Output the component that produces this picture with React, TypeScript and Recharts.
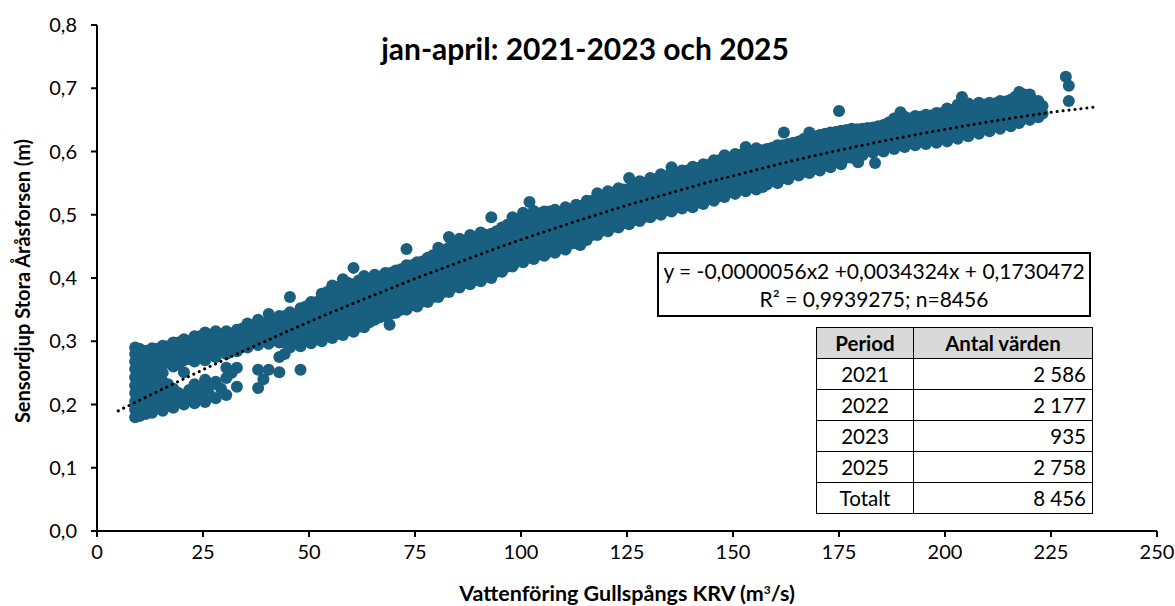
import { Scatter, ScatterChart, XAxis, YAxis } from "recharts";

// flow (m3/s) and sensor depth (m)
type Col = [number, number[]];

const lowFlow: Col[] = [
  [9, [0.18, 0.192, 0.205, 0.218, 0.23, 0.243, 0.256, 0.268, 0.28, 0.29]],
  [10, [0.182, 0.196, 0.21, 0.224, 0.238, 0.252, 0.266, 0.279, 0.288]],
  [11.5, [0.185, 0.2, 0.214, 0.228, 0.242, 0.257, 0.271, 0.285]],
  [13, [0.187, 0.2, 0.215, 0.23, 0.245, 0.26, 0.274, 0.289]],
  [15.5, [0.19, 0.204, 0.218, 0.236, 0.25, 0.264, 0.279, 0.293]],
  [18, [0.195, 0.208, 0.225, 0.26, 0.272, 0.285, 0.298]],
  [20.5, [0.2, 0.212, 0.251, 0.27, 0.283, 0.296, 0.303]],
  [23, [0.202, 0.215, 0.232, 0.268, 0.28, 0.294, 0.308]],
  [25.5, [0.204, 0.22, 0.239, 0.27, 0.284, 0.298, 0.314]],
  [28, [0.21, 0.236, 0.275, 0.288, 0.302, 0.316]],
  [30.5, [0.215, 0.242, 0.258, 0.28, 0.292, 0.305, 0.316]],
  [33, [0.228, 0.258, 0.284, 0.298, 0.31, 0.318]],
  [35.5, [0.29, 0.302, 0.315, 0.328]],
  [38, [0.226, 0.255, 0.294, 0.306, 0.32, 0.334]],
  [40.5, [0.255, 0.296, 0.31, 0.325, 0.343]],
  [43, [0.251, 0.275, 0.298, 0.312, 0.326, 0.34]],
  [45.5, [0.29, 0.305, 0.318, 0.332, 0.346, 0.37]],
  [48, [0.255, 0.292, 0.308, 0.322, 0.337, 0.352]],
  [50.5, [0.297, 0.312, 0.326, 0.341, 0.356, 0.362]],
  [53, [0.3, 0.315, 0.33, 0.345, 0.36, 0.375]],
  [55.5, [0.305, 0.32, 0.335, 0.35, 0.365, 0.38, 0.388]],
  [58, [0.31, 0.325, 0.34, 0.355, 0.37, 0.385, 0.398]],
  [60.5, [0.315, 0.33, 0.345, 0.36, 0.375, 0.39, 0.416]],
];

const lowFill: Col[] = [
  [9.5, [0.186, 0.2, 0.214, 0.228, 0.242, 0.256, 0.27, 0.283]],
  [10.75, [0.19, 0.204, 0.218, 0.232, 0.246, 0.26, 0.274, 0.282]],
  [12.25, [0.193, 0.207, 0.221, 0.235, 0.249, 0.263, 0.277, 0.284]],
  [14.25, [0.196, 0.21, 0.224, 0.24, 0.254, 0.268, 0.282, 0.288]],
  [16.75, [0.198, 0.212, 0.232, 0.266, 0.28, 0.292]],
  [19.25, [0.204, 0.218, 0.264, 0.278, 0.292, 0.298]],
  [21.75, [0.207, 0.223, 0.272, 0.287, 0.3]],
  [24.25, [0.21, 0.228, 0.274, 0.288, 0.302, 0.308]],
  [26.75, [0.214, 0.23, 0.278, 0.292, 0.306, 0.31]],
  [29.25, [0.225, 0.284, 0.298, 0.31]],
  [31.75, [0.25, 0.288, 0.302, 0.312]],
  [34.25, [0.292, 0.306, 0.32]],
  [36.75, [0.297, 0.311, 0.325]],
  [39.25, [0.24, 0.3, 0.314, 0.328]],
  [41.75, [0.302, 0.317, 0.332]],
  [44.25, [0.28, 0.298, 0.312, 0.326, 0.34]],
  [46.75, [0.298, 0.312, 0.326, 0.34]],
  [49.25, [0.3, 0.315, 0.33, 0.345, 0.355]],
  [51.75, [0.304, 0.319, 0.334, 0.349, 0.362]],
  [54.25, [0.308, 0.323, 0.338, 0.353, 0.368, 0.378]],
  [56.75, [0.312, 0.327, 0.342, 0.357, 0.372, 0.386]],
  [59.25, [0.318, 0.333, 0.348, 0.363, 0.378, 0.392]],
];

const midFlow: Col[] = [
  [63, [0.322, 0.336, 0.35, 0.364, 0.378, 0.392, 0.403]],
  [65.5, [0.334, 0.342, 0.356, 0.37, 0.384, 0.398, 0.405]],
  [68, [0.34, 0.352, 0.366, 0.38, 0.394, 0.408]],
  [70.5, [0.345, 0.358, 0.372, 0.386, 0.4, 0.412]],
  [73, [0.35, 0.364, 0.378, 0.392, 0.406, 0.42, 0.446]],
  [75.5, [0.355, 0.369, 0.383, 0.397, 0.411, 0.425]],
  [78, [0.362, 0.376, 0.39, 0.404, 0.418, 0.432]],
  [80.5, [0.37, 0.384, 0.398, 0.412, 0.426, 0.44, 0.448]],
  [83, [0.378, 0.392, 0.406, 0.42, 0.434, 0.448, 0.465]],
  [85.5, [0.385, 0.399, 0.413, 0.427, 0.441, 0.455, 0.462]],
  [88, [0.39, 0.404, 0.418, 0.432, 0.446, 0.46, 0.468]],
  [90.5, [0.395, 0.41, 0.424, 0.438, 0.452, 0.466, 0.472]],
  [93, [0.4, 0.414, 0.428, 0.442, 0.456, 0.47, 0.496]],
  [95.5, [0.41, 0.424, 0.438, 0.452, 0.466, 0.48]],
  [98, [0.418, 0.432, 0.446, 0.46, 0.474, 0.488, 0.496]],
  [100.5, [0.425, 0.439, 0.453, 0.467, 0.481, 0.495, 0.503]],
  [103, [0.43, 0.444, 0.458, 0.472, 0.486, 0.5, 0.506]],
  [105.5, [0.435, 0.449, 0.463, 0.477, 0.491, 0.505]],
  [108, [0.44, 0.454, 0.468, 0.482, 0.496, 0.508]],
  [110.5, [0.445, 0.459, 0.473, 0.487, 0.501, 0.512]],
  [113, [0.455, 0.468, 0.482, 0.496, 0.51, 0.516]],
  [115.5, [0.46, 0.474, 0.488, 0.502, 0.516, 0.522]],
  [118, [0.468, 0.482, 0.496, 0.51, 0.524, 0.534]],
  [120.5, [0.474, 0.488, 0.502, 0.516, 0.53, 0.537]],
  [123, [0.48, 0.494, 0.508, 0.522, 0.536, 0.542]],
  [125.5, [0.485, 0.499, 0.513, 0.527, 0.541, 0.558]],
  [128, [0.49, 0.504, 0.518, 0.532, 0.546, 0.553]],
  [130.5, [0.496, 0.51, 0.524, 0.538, 0.552, 0.558]],
  [133, [0.5, 0.514, 0.528, 0.542, 0.556, 0.564]],
  [135.5, [0.505, 0.519, 0.533, 0.547, 0.561, 0.575]],
  [138, [0.51, 0.524, 0.538, 0.552, 0.566, 0.57]],
];

const midFill: Col[] = [
  [61.75, [0.323, 0.338, 0.353, 0.368, 0.383, 0.396]],
  [64.25, [0.33, 0.344, 0.358, 0.372, 0.386, 0.398]],
  [66.75, [0.338, 0.35, 0.364, 0.378, 0.392, 0.402]],
  [69.25, [0.343, 0.356, 0.37, 0.384, 0.398, 0.408]],
  [71.75, [0.35, 0.362, 0.376, 0.39, 0.404, 0.414]],
  [74.25, [0.357, 0.37, 0.384, 0.398, 0.412, 0.42]],
  [76.75, [0.363, 0.376, 0.39, 0.404, 0.418, 0.426]],
  [79.25, [0.37, 0.383, 0.397, 0.411, 0.425, 0.436]],
  [81.75, [0.378, 0.391, 0.405, 0.419, 0.433, 0.444]],
  [84.25, [0.386, 0.399, 0.413, 0.427, 0.441, 0.452]],
  [86.75, [0.392, 0.406, 0.42, 0.434, 0.448, 0.458]],
  [89.25, [0.397, 0.411, 0.425, 0.439, 0.453, 0.464]],
  [91.75, [0.402, 0.417, 0.431, 0.445, 0.459, 0.468]],
  [94.25, [0.41, 0.421, 0.435, 0.449, 0.463, 0.474]],
  [96.75, [0.418, 0.431, 0.445, 0.459, 0.473, 0.484]],
  [99.25, [0.426, 0.436, 0.45, 0.464, 0.478, 0.492]],
  [101.75, [0.432, 0.446, 0.46, 0.474, 0.488, 0.498]],
  [104.25, [0.437, 0.451, 0.465, 0.479, 0.493, 0.502]],
  [106.75, [0.442, 0.456, 0.47, 0.484, 0.498, 0.505]],
  [109.25, [0.447, 0.461, 0.475, 0.489, 0.503]],
  [111.75, [0.454, 0.466, 0.48, 0.494, 0.506]],
  [114.25, [0.461, 0.475, 0.489, 0.503, 0.514]],
  [116.75, [0.468, 0.481, 0.495, 0.509, 0.522]],
  [119.25, [0.475, 0.489, 0.503, 0.517, 0.529]],
  [121.75, [0.481, 0.495, 0.509, 0.523, 0.535]],
  [124.25, [0.487, 0.501, 0.515, 0.529, 0.54]],
  [126.75, [0.492, 0.506, 0.52, 0.534, 0.546]],
  [129.25, [0.497, 0.511, 0.525, 0.539, 0.55]],
  [131.75, [0.502, 0.517, 0.531, 0.545, 0.556]],
  [134.25, [0.507, 0.521, 0.535, 0.549, 0.561]],
  [136.75, [0.512, 0.526, 0.54, 0.554, 0.566]],
  [139.25, [0.516, 0.531, 0.545, 0.559, 0.57]],
];

const highFlow: Col[] = [
  [140.5, [0.512, 0.526, 0.54, 0.554, 0.568, 0.576]],
  [143, [0.517, 0.531, 0.545, 0.559, 0.573, 0.58]],
  [145.5, [0.522, 0.536, 0.55, 0.564, 0.578, 0.586]],
  [148, [0.528, 0.542, 0.556, 0.57, 0.584, 0.594]],
  [150.5, [0.533, 0.547, 0.561, 0.575, 0.589, 0.596]],
  [153, [0.537, 0.551, 0.565, 0.579, 0.593, 0.607]],
  [155.5, [0.54, 0.554, 0.568, 0.582, 0.596, 0.605]],
  [158, [0.548, 0.562, 0.576, 0.59, 0.604]],
  [160.5, [0.55, 0.564, 0.578, 0.592, 0.606, 0.61]],
  [163, [0.556, 0.57, 0.584, 0.598, 0.612]],
  [165.5, [0.562, 0.576, 0.59, 0.604, 0.616]],
  [168, [0.566, 0.58, 0.594, 0.608, 0.622, 0.63]],
  [170.5, [0.57, 0.584, 0.598, 0.612, 0.626]],
  [173, [0.575, 0.589, 0.603, 0.617, 0.63]],
  [175.5, [0.58, 0.594, 0.608, 0.622, 0.633]],
  [178, [0.59, 0.604, 0.618, 0.632, 0.636]],
  [180.5, [0.594, 0.608, 0.622, 0.636]],
  [183, [0.598, 0.612, 0.626, 0.638]],
  [185.5, [0.6, 0.614, 0.628, 0.642]],
  [188, [0.604, 0.618, 0.632, 0.646, 0.652]],
  [190.5, [0.607, 0.621, 0.635, 0.649, 0.655]],
  [193, [0.61, 0.624, 0.638, 0.652, 0.656]],
  [195.5, [0.612, 0.626, 0.64, 0.654, 0.658]],
  [198, [0.614, 0.628, 0.642, 0.656, 0.661]],
  [200.5, [0.616, 0.63, 0.644, 0.658, 0.668]],
  [203, [0.62, 0.634, 0.648, 0.662, 0.674]],
  [205.5, [0.624, 0.638, 0.652, 0.666, 0.676]],
  [208, [0.628, 0.642, 0.656, 0.67, 0.677]],
  [210.5, [0.632, 0.646, 0.66, 0.674, 0.677]],
  [213, [0.636, 0.65, 0.664, 0.676, 0.68]],
  [215.5, [0.64, 0.654, 0.668, 0.682]],
  [217.5, [0.645, 0.658, 0.672, 0.686, 0.694]],
  [220, [0.65, 0.662, 0.674, 0.686, 0.69]],
  [222, [0.654, 0.665, 0.677, 0.68]],
  [223, [0.66, 0.672]],
];

const highFill: Col[] = [
  [141.75, [0.52, 0.534, 0.548, 0.562, 0.574]],
  [144.25, [0.525, 0.538, 0.552, 0.566, 0.579]],
  [146.75, [0.53, 0.544, 0.558, 0.572, 0.586]],
  [149.25, [0.536, 0.549, 0.563, 0.577, 0.59]],
  [151.75, [0.54, 0.554, 0.568, 0.582, 0.595]],
  [154.25, [0.544, 0.558, 0.572, 0.586, 0.6]],
  [156.75, [0.549, 0.562, 0.576, 0.59, 0.602]],
  [159.25, [0.554, 0.567, 0.581, 0.595, 0.606]],
  [161.75, [0.558, 0.572, 0.586, 0.6, 0.61]],
  [164.25, [0.564, 0.577, 0.591, 0.605, 0.614]],
  [166.75, [0.568, 0.582, 0.596, 0.61, 0.62]],
  [169.25, [0.573, 0.587, 0.601, 0.615, 0.624]],
  [171.75, [0.578, 0.591, 0.605, 0.619, 0.628]],
  [174.25, [0.584, 0.597, 0.611, 0.625, 0.631]],
  [176.75, [0.59, 0.601, 0.615, 0.628, 0.634]],
  [179.25, [0.597, 0.611, 0.625, 0.635]],
  [181.75, [0.601, 0.615, 0.629, 0.637]],
  [184.25, [0.604, 0.62, 0.634, 0.64]],
  [186.75, [0.608, 0.621, 0.635, 0.646]],
  [189.25, [0.61, 0.625, 0.639, 0.65]],
  [191.75, [0.614, 0.628, 0.642, 0.652]],
  [194.25, [0.617, 0.631, 0.645, 0.655]],
  [196.75, [0.619, 0.633, 0.647, 0.657]],
  [199.25, [0.621, 0.635, 0.649, 0.661]],
  [201.75, [0.624, 0.638, 0.652, 0.666]],
  [204.25, [0.628, 0.642, 0.656, 0.669]],
  [206.75, [0.632, 0.645, 0.659, 0.672]],
  [209.25, [0.636, 0.649, 0.663, 0.674]],
  [211.75, [0.64, 0.653, 0.667, 0.676]],
  [214.25, [0.644, 0.657, 0.671, 0.679]],
  [216.5, [0.648, 0.661, 0.675, 0.686]],
  [218.75, [0.652, 0.666, 0.68, 0.69]],
  [221, [0.656, 0.668, 0.68]],
];

const outliers: [number, number][] = [
  [69, 0.326], [102, 0.52], [114, 0.452], [157, 0.544], [162, 0.63],
  [175, 0.664], [179.5, 0.583], [183.5, 0.582], [189.5, 0.662], [204, 0.686],
  [228.5, 0.718], [229.2, 0.704], [229.2, 0.68],
];

// dotted polynomial trend line as drawn
const trendX = [5, 15, 25, 35, 45, 55, 65, 75, 85, 95, 105, 115, 125, 135, 145, 155, 165, 175, 185, 195, 205, 215, 225, 235];
const trendY = [0.19, 0.223, 0.255, 0.286, 0.316, 0.345, 0.372, 0.399, 0.424, 0.449, 0.472, 0.494, 0.515, 0.534, 0.553, 0.57, 0.587, 0.602, 0.616, 0.629, 0.641, 0.652, 0.662, 0.67];

const xTicks = [0, 25, 50, 75, 100, 125, 150, 175, 200, 225, 250];
const yTicks = [0, 0.1, 0.2, 0.3, 0.4, 0.5, 0.6, 0.7, 0.8];

const periods = ["2021", "2022", "2023", "2025", "Totalt"];
const counts = ["2 586", "2 177", "935", "2 758", "8 456"];

const equation = "y = -0,0000056x2 +0,0034324x + 0,1730472";
const rSquared = "R² = 0,9939275; n=8456";

const points = [...lowFlow, ...lowFill, ...midFlow, ...midFill, ...highFlow, ...highFill]
  .flatMap(([x, ys]) => ys.map((y) => ({ x, y })))
  .concat(outliers.map(([x, y]) => ({ x, y })));
const trend = trendX.map((x, i) => ({ x, y: trendY[i] }));

const font = "Lato, 'Open Sans', sans-serif";
const blue = "#185f80";

const cell = { border: "1.5px solid #000", padding: "0 6px", height: 30 };

export default function App() {
  return (
    <div
      style={{
        position: "absolute",
        left: 0,
        top: 0,
        width: 1175,
        height: 606,
        background: "#fff",
        fontFamily: font,
        color: "#000",
      }}
    >
      <ScatterChart width={1175} height={606} margin={{ top: 25, right: 18, bottom: 0, left: 12 }}>
        <XAxis
          type="number"
          dataKey="x"
          domain={[0, 250]}
          ticks={xTicks}
          height={75}
          tickSize={6}
          tickMargin={8}
          axisLine={{ stroke: "#000", strokeWidth: 2 }}
          tickLine={{ stroke: "#000", strokeWidth: 2 }}
          tick={{ fontSize: 20, fill: "#000", fontFamily: font }}
        />
        <YAxis
          type="number"
          dataKey="y"
          domain={[0, 0.8]}
          ticks={yTicks}
          width={85}
          tickSize={6}
          tickMargin={14}
          axisLine={{ stroke: "#000", strokeWidth: 2 }}
          tickLine={{ stroke: "#000", strokeWidth: 2 }}
          tick={{ fontSize: 20, fill: "#000", fontFamily: font }}
          tickFormatter={(v: number) => v.toFixed(1).replace(".", ",")}
        />
        <Scatter
          data={points}
          isAnimationActive={false}
          shape={(p: any) => <circle cx={p.cx} cy={p.cy} r={6} fill={blue} />}
        />
        <Scatter
          data={trend}
          isAnimationActive={false}
          line={{ stroke: "#000", strokeWidth: 3, strokeDasharray: "0.1 5.9", strokeLinecap: "round" }}
          lineType="joint"
          shape={() => <g />}
        />
      </ScatterChart>

      <div
        style={{
          position: "absolute",
          left: 585,
          top: 48,
          transform: "translate(-50%, -50%)",
          fontSize: 30,
          fontWeight: 700,
          whiteSpace: "nowrap",
        }}
      >
        jan-april: 2021-2023 och 2025
      </div>

      <div
        style={{
          position: "absolute",
          left: 22,
          top: 281,
          transform: "translate(-50%, -50%) rotate(-90deg)",
          fontSize: 20,
          fontWeight: 700,
          whiteSpace: "nowrap",
        }}
      >
        Sensordjup Stora Åråsforsen (m)
      </div>

      <div
        style={{
          position: "absolute",
          left: 627,
          top: 593,
          transform: "translate(-50%, -50%)",
          fontSize: 21.5,
          fontWeight: 700,
          whiteSpace: "nowrap",
        }}
      >
        Vattenföring Gullspångs KRV (m<sup style={{ fontSize: 12, verticalAlign: 7 }}>3</sup>/s)
      </div>

      <div
        style={{
          position: "absolute",
          left: 657,
          top: 252,
          width: 430,
          height: 61,
          border: "2px solid #000",
          background: "#fff",
          fontSize: 21,
          lineHeight: "28px",
          textAlign: "center",
          whiteSpace: "nowrap",
        }}
      >
        <div style={{ marginTop: 3 }}>{equation}</div>
        <div>{rSquared}</div>
      </div>

      <table
        style={{
          position: "absolute",
          left: 816,
          top: 327,
          width: 277,
          borderCollapse: "collapse",
          background: "#fff",
          fontSize: 20.5,
        }}
      >
        <thead>
          <tr style={{ background: "#d9d9d9", fontWeight: 700 }}>
            <th style={{ ...cell, width: 84, textAlign: "center" }}>Period</th>
            <th style={{ ...cell, textAlign: "center" }}>Antal värden</th>
          </tr>
        </thead>
        <tbody>
          {periods.map((p, i) => (
            <tr key={p}>
              <td style={{ ...cell, textAlign: "center" }}>{p}</td>
              <td style={{ ...cell, textAlign: "right" }}>{counts[i]}</td>
            </tr>
          ))}
        </tbody>
      </table>
    </div>
  );
}
